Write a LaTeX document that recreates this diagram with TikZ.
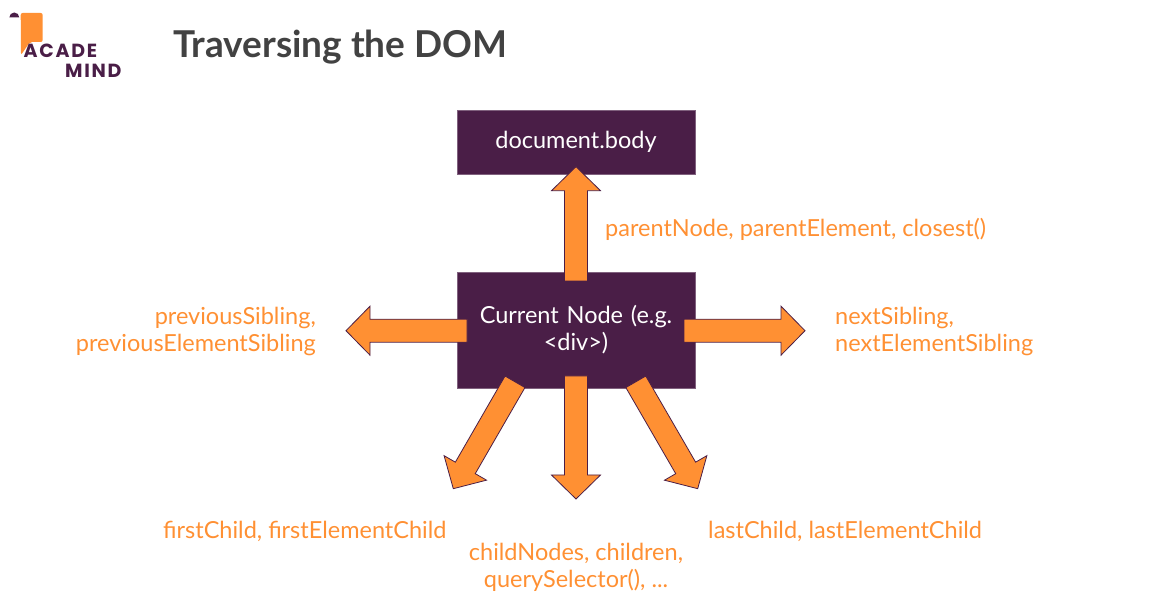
\documentclass[tikz,border=0pt]{standalone}
\usepackage{fontspec}
\setmainfont{Lato}
\newfontfamily\logofont[LetterSpace=9]{Poppins}
\usetikzlibrary{positioning,calc}
\definecolor{amPurple}{HTML}{4A1E47}
\definecolor{amOrange}{HTML}{FF9033}
\definecolor{amGrey}{HTML}{424242}

\begin{document}
\begin{tikzpicture}[
    x=1pt,
    y=-1pt,
    box/.style={
        rectangle,
        draw=amPurple!70!white,
        fill=amPurple,
        text=white,
        line width=0.6pt,
        minimum width=238pt,
        minimum height=64pt,
        text width=210pt,
        inner sep=0pt,
        align=center,
        font=\fontsize{23.5}{27}\selectfont
    },
    label/.style={
        text=amOrange,
        inner sep=0pt,
        font=\fontsize{23.5}{27}\selectfont
    },
    fatarrow/.style={
        draw=amPurple,
        fill=amOrange,
        line width=0.8pt,
        miter limit=10,
        to path={
            ($(\tikztostart)!11.5pt!90:(\tikztotarget)$)
            -- ($(\tikztotarget)!24pt!(\tikztostart)!11.5pt!90:(\tikztotarget)$)
            -- ($(\tikztotarget)!24pt!(\tikztostart)!24.5pt!90:(\tikztotarget)$)
            -- (\tikztotarget)
            -- ($(\tikztotarget)!24pt!(\tikztostart)!24.5pt!-90:(\tikztotarget)$)
            -- ($(\tikztotarget)!24pt!(\tikztostart)!11.5pt!-90:(\tikztotarget)$)
            -- ($(\tikztostart)!11.5pt!-90:(\tikztotarget)$)
            -- cycle
        }
    },
    logotext/.style={
        text=amPurple,
        inner sep=0pt,
        font=\logofont\fontsize{19}{19}\bfseries\selectfont
    },
]
    \useasboundingbox (0,0) rectangle (1152,609);

    % logo
    \fill[amOrange, rounded corners=2pt] (20.7,13) -- (42.7,13) -- (42.7,42) -- (30,42) -- (21,55) -- cycle;
    \fill[amPurple] (9.3,17.5) arc[start angle=180, end angle=360, radius=5] -- cycle;
    \node (acade) [logotext, anchor=west] at (23.5,50.5) {ACADE};
    \node (mind) [logotext, anchor=west] at (65,71) {MIND};

    \node (title) [anchor=west, inner sep=0pt, text=amGrey, font=\fontsize{37}{40}\bfseries\selectfont] at (173,47) {Traversing the DOM};

    \node (body) [box] at (576,142) {document.body};
    \node (current) [box, minimum height=116pt] at (576,330) {Current Node (e.g.\\<div>)};

    \coordinate (upTail) at (576,281);
    \coordinate (upTip) at (576,166.7);
    \coordinate (prevTail) at (467,330.7);
    \coordinate (prevTip) at (346,330.7);
    \coordinate (nextTail) at (684,330.7);
    \coordinate (nextTip) at (805,330.7);
    \coordinate (firstTail) at (515,381.8);
    \coordinate (firstTip) at (453.3,488.7);
    \coordinate (childTail) at (576,376);
    \coordinate (childTip) at (576,499);
    \coordinate (lastTail) at (635.8,381.8);
    \coordinate (lastTip) at (697.7,488.7);

    \draw[fatarrow] (upTail) to (upTip);
    \draw[fatarrow] (prevTail) to (prevTip);
    \draw[fatarrow] (nextTail) to (nextTip);
    \draw[fatarrow] (firstTail) to (firstTip);
    \draw[fatarrow] (childTail) to (childTip);
    \draw[fatarrow] (lastTail) to (lastTip);

    \node (parent) [label, anchor=west] at (605,229) {parentNode, parentElement, closest()};
    \node (prev) [label, anchor=east, align=right] at (316,331) {previousSibling,\\previousElementSibling};
    \node (next) [label, anchor=west, align=left] at (835,331) {nextSibling,\\nextElementSibling};
    \node (first) [label, anchor=west] at (163,531) {firstChild, firstElementChild};
    \node (children) [label, align=center] at (576,567.5) {childNodes, children,\\querySelector(), ...};
    \node (last) [label, anchor=west] at (708,531) {lastChild, lastElementChild};
\end{tikzpicture}
\end{document}
